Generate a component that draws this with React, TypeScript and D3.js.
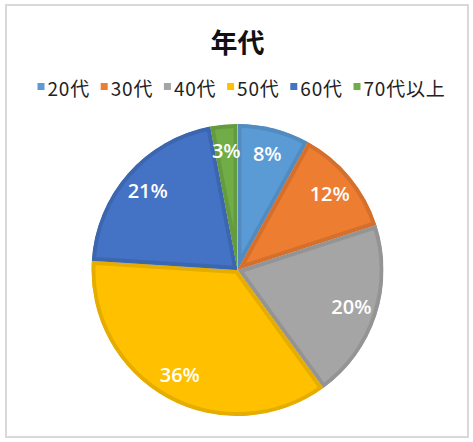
import { useMemo } from "react";
import * as d3 from "d3";

const categories = ["20代", "30代", "40代", "50代", "60代", "70代以上"];
const shares = [8, 12, 20, 36, 21, 3];
const colors = ["#5B9BD5", "#ED7D31", "#A5A5A5", "#FFC000", "#4472C4", "#70AD47"];
const title = "年代";

const WIDTH = 473;
const HEIGHT = 442;
const CX = 237.5;
const CY = 270;
const RADIUS = 146;

export default function App() {
  const slices = useMemo(() => {
    return d3
      .pie<number>()
      .sort(null)
      .value((d) => d)(shares);
  }, []);

  const arc = d3.arc<d3.PieArcDatum<number>>().innerRadius(0).outerRadius(RADIUS);
  const labelArc = d3
    .arc<d3.PieArcDatum<number>>()
    .innerRadius(RADIUS * 0.82)
    .outerRadius(RADIUS * 0.82);

  const total = d3.sum(shares);
  const legendStep = 63.2;
  const legendX = 37.5;

  return (
    <div style={{ position: "absolute", left: 0, top: 0 }}>
      <svg width={WIDTH} height={HEIGHT} style={{ display: "block" }}>
        <rect x={0} y={0} width={WIDTH} height={HEIGHT} fill="#fff" />
        <rect
          x={6}
          y={5}
          width={462}
          height={432}
          fill="#fff"
          stroke="#d9d9d9"
          strokeWidth={2}
        />
        <text
          x={237.5}
          y={53}
          textAnchor="middle"
          fontFamily="'Noto Sans CJK JP', sans-serif"
          fontWeight={700}
          fontSize={27}
          fill="#111"
        >
          {title}
        </text>

        <g
          fontFamily="'Noto Sans CJK JP', sans-serif"
          fontSize={19}
          letterSpacing={0.8}
          fill="#222"
        >
          {categories.map((c, i) => (
            <g key={c} transform={`translate(${legendX + i * legendStep},0)`}>
              <rect x={0} y={83} width={7} height={7} fill={colors[i]} />
              <text x={10} y={95.5}>
                {c}
              </text>
            </g>
          ))}
        </g>

        <defs>
          {slices.map((s, i) => (
            <clipPath id={`slice-clip-${i}`} key={i}>
              <path d={arc(s) || ""} />
            </clipPath>
          ))}
        </defs>

        <g transform={`translate(${CX},${CY})`}>
          {slices.map((s, i) => (
            <path
              key={i}
              d={arc(s) || ""}
              fill={colors[i]}
              stroke={d3.color(colors[i])!.darker(0.3).formatHex()}
              strokeWidth={8}
              strokeLinejoin="round"
              clipPath={`url(#slice-clip-${i})`}
            />
          ))}
          {slices.map((s, i) => {
            const [x, y] = labelArc.centroid(s);
            return (
              <text
                key={i}
                x={x}
                y={y}
                dy="0.36em"
                textAnchor="middle"
                fontFamily="'Open Sans', sans-serif"
                fontWeight={600}
                fontSize={20}
                fill="#fff"
              >
                {`${Math.round((s.value / total) * 100)}%`}
              </text>
            );
          })}
        </g>
      </svg>
    </div>
  );
}
